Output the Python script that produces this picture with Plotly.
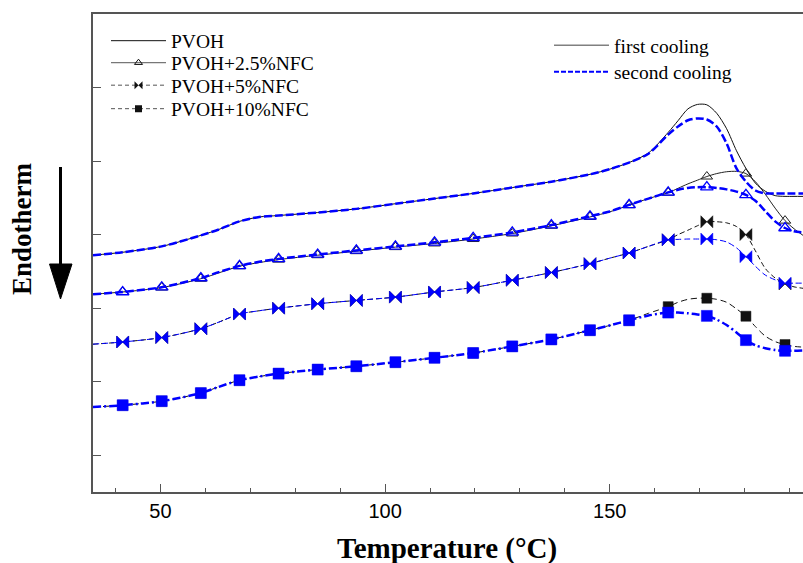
import plotly.graph_objects as go

# Temperature grid (°C) shared by all DSC cooling curves
temp = [35, 41.6, 50.3, 59.0, 63.0, 67.6, 72.0, 76.3, 85.0, 93.6, 102.3, 111.0,
        119.6, 128.3, 137.0, 145.6, 150.0, 154.3, 158.6, 163.0, 165.2, 167.4,
        169.5, 171.6, 173.8, 176.0, 178.2, 180.3, 182.4, 184.6, 186.8, 189.0,
        191.0, 193.0]

# Temperatures where symbols are placed on the curves
marker_temps = [41.6, 50.3, 59.0, 67.6, 76.3, 85.0, 93.6, 102.3, 111.0, 119.6,
                128.3, 137.0, 145.6, 154.3, 163.0, 171.6, 180.3, 189.0]

# Heat flow (arbitrary units, curves shifted vertically)
pvoh_first = [3.72, 3.76, 3.84, 3.99, 4.07, 4.18, 4.24, 4.26, 4.30, 4.35, 4.42, 4.49,
              4.56, 4.64, 4.72, 4.82, 4.89, 4.98, 5.11, 5.39, 5.55, 5.71, 5.77, 5.765,
              5.65, 5.44, 5.14, 4.90, 4.70, 4.59, 4.53, 4.52, 4.52, 4.52]
pvoh_second = [3.72, 3.76, 3.84, 3.99, 4.07, 4.18, 4.24, 4.26, 4.30, 4.35, 4.42, 4.49,
               4.56, 4.64, 4.72, 4.82, 4.89, 4.98, 5.10, 5.36, 5.47, 5.555, 5.58, 5.565,
               5.47, 5.24, 4.90, 4.72, 4.60, 4.56, 4.56, 4.56, 4.56, 4.56]

nfc25_first = [3.19, 3.22, 3.28, 3.40, 3.48, 3.57, 3.62, 3.66, 3.72, 3.775, 3.83, 3.88,
               3.94, 4.015, 4.12, 4.24, 4.31, 4.40, 4.49, 4.57, 4.63, 4.69, 4.74, 4.79,
               4.83, 4.855, 4.86, 4.83, 4.72, 4.55, 4.36, 4.19, 4.08, 3.99]
nfc25_second = [3.19, 3.22, 3.285, 3.41, 3.49, 3.575, 3.63, 3.67, 3.73, 3.785, 3.84, 3.895,
                3.955, 4.03, 4.13, 4.25, 4.315, 4.405, 4.49, 4.575, 4.61, 4.635, 4.645, 4.645,
                4.635, 4.615, 4.585, 4.54, 4.46, 4.32, 4.18, 4.09, 4.045, 4.03]

nfc5_first = [2.51, 2.54, 2.60, 2.72, 2.81, 2.92, 2.965, 3.00, 3.06, 3.105, 3.15, 3.22,
              3.28, 3.38, 3.485, 3.605, 3.68, 3.75, 3.84, 3.93, 4.00, 4.06, 4.12, 4.175,
              4.175, 4.16, 4.11, 4.00, 3.78, 3.54, 3.41, 3.33, 3.29, 3.27]
nfc5_second = [2.51, 2.54, 2.60, 2.72, 2.81, 2.92, 2.965, 3.00, 3.06, 3.105, 3.15, 3.22,
               3.28, 3.38, 3.485, 3.605, 3.68, 3.75, 3.84, 3.93, 3.935, 3.94, 3.94, 3.94,
               3.93, 3.90, 3.82, 3.70, 3.57, 3.45, 3.385, 3.34, 3.34, 3.34]

nfc10_first = [1.655, 1.68, 1.735, 1.845, 1.93, 2.02, 2.07, 2.11, 2.165, 2.21, 2.265, 2.325,
               2.39, 2.48, 2.575, 2.70, 2.765, 2.835, 2.93, 3.02, 3.08, 3.12, 3.135, 3.135,
               3.12, 3.08, 2.99, 2.89, 2.75, 2.62, 2.545, 2.505, 2.48, 2.47]
nfc10_second = [1.655, 1.68, 1.735, 1.845, 1.93, 2.02, 2.07, 2.11, 2.165, 2.21, 2.265, 2.325,
                2.39, 2.48, 2.575, 2.70, 2.765, 2.835, 2.90, 2.94, 2.94, 2.93, 2.915, 2.895,
                2.845, 2.77, 2.67, 2.565, 2.495, 2.455, 2.43, 2.42, 2.42, 2.425]

series_names = ["PVOH", "PVOH+2.5%NFC", "PVOH+5%NFC", "PVOH+10%NFC"]
cooling_names = ["first cooling", "second cooling"]

BLACK = "#111111"
BLUE = "#0000ff"
SERIF = "Liberation Serif"

mark_idx = [temp.index(t) for t in marker_temps]

fig = go.Figure()


def add_curve(values, color, width, dash, symbol=None, msize=9, mline=1.0):
    fig.add_trace(go.Scatter(
        x=temp, y=values, mode="lines", showlegend=False, hoverinfo="skip",
        line=dict(color=color, width=width, dash=dash, shape="spline", smoothing=0.8),
    ))
    if symbol:
        fig.add_trace(go.Scatter(
            x=[temp[i] for i in mark_idx], y=[values[i] for i in mark_idx],
            mode="markers", showlegend=False, hoverinfo="skip",
            marker=dict(symbol=symbol, size=msize, color=color,
                        line=dict(color=color, width=mline)),
        ))


# first cooling (black, thin)
add_curve(pvoh_first, BLACK, 1.0, "solid")
add_curve(nfc25_first, "#222222", 1.0, "solid", "triangle-up-open", 10, 1.0)
add_curve(nfc5_first, BLACK, 1.0, "5px,3px", "bowtie", 12, 0.5)
add_curve(nfc10_first, BLACK, 1.0, "6px,4px", "square", 10, 0.5)

# second cooling (blue)
add_curve(pvoh_second, BLUE, 2.5, "8px,3px")
add_curve(nfc25_second, BLUE, 2.5, "8px,3px", "triangle-up-open", 11, 1.3)
add_curve(nfc5_second, BLUE, 1.0, "6px,3px", "bowtie", 12, 0.5)
add_curve(nfc10_second, BLUE, 2.5, "8px,3px,2px,3px", "square", 11, 0.5)

# legend keys
legend_styles = [
    dict(line=dict(color=BLACK, width=1), mode="lines"),
    dict(line=dict(color="#777777", width=1.2), mode="lines+markers",
         marker=dict(symbol="triangle-up-open", size=7, color=BLACK)),
    dict(line=dict(color="#555555", width=1, dash="4px,3px"), mode="lines+markers",
         marker=dict(symbol="bowtie", size=8, color=BLACK)),
    dict(line=dict(color="#555555", width=1, dash="4px,3px"), mode="lines+markers",
         marker=dict(symbol="square", size=7, color=BLACK)),
]
legend_ids = ["legend", "legend2", "legend3", "legend4"]
for name, style, lid in zip(series_names, legend_styles, legend_ids):
    fig.add_trace(go.Scatter(x=[None], y=[None], name=name, legend=lid,
                             hoverinfo="skip", **style))

fig.add_trace(go.Scatter(x=[None], y=[None], name=cooling_names[0], legend="legend5",
                         mode="lines", line=dict(color="#808080", width=1.5)))
fig.add_trace(go.Scatter(x=[None], y=[None], name=cooling_names[1], legend="legend6",
                         mode="lines", line=dict(color=BLUE, width=2, dash="5px,2px")))

L, R, T, B = 93, 0, 14, 71
W, H = 803, 563
PW, PH = W - L - R, H - T - B


def px(xp):
    return (xp - L) / PW


def py(yp):
    return (H - B - yp) / PH


legend_common = dict(font=dict(family=SERIF, size=19.5, color="black"),
                     bgcolor="rgba(0,0,0,0)", borderwidth=0, xanchor="left",
                     yanchor="middle", itemwidth=55, tracegroupgap=0)
left_rows = [41.0, 63.0, 85.5, 109.0]
layout_legends = {}
for lid, row in zip(legend_ids, left_rows):
    layout_legends[lid] = dict(x=px(106), y=py(row), **legend_common)
layout_legends["legend5"] = dict(x=px(549), y=py(45.5), **legend_common)
layout_legends["legend6"] = dict(x=px(549), y=py(72.0), **legend_common)

axis_line = dict(showline=True, linecolor="#555555", linewidth=1.5, showgrid=False,
                 zeroline=False, ticks="inside", tickcolor="#555555", tickwidth=1)

fig.update_layout(
    width=W, height=H,
    margin=dict(l=L, r=R, t=T, b=B, pad=0),
    paper_bgcolor="white", plot_bgcolor="white",
    xaxis=dict(range=[35, 193], tickvals=[50, 100, 150], ticklen=8,
               mirror=True,
               minor=dict(dtick=10, tick0=0, ticks="inside", ticklen=4,
                          tickcolor="#555555", showgrid=False),
               tickfont=dict(family="Liberation Sans", size=20, color="black"),
               **axis_line),
    yaxis=dict(range=[0.5, 7.0], tickvals=[1, 2, 3, 4, 5, 6], ticklen=8,
               showticklabels=False, **axis_line),
    **layout_legends,
)

fig.add_annotation(text="<b>Temperature (°C)</b>", xref="paper", yref="paper",
                   x=px(447), y=py(548), xanchor="center", yanchor="middle",
                   showarrow=False, font=dict(family=SERIF, size=29, color="black"))
fig.add_annotation(text="<b>Endotherm</b>", xref="paper", yref="paper",
                   x=px(22), y=py(229), xanchor="center", yanchor="middle",
                   textangle=-90, showarrow=False,
                   font=dict(family=SERIF, size=27, color="black"))

# downward arrow next to the Endotherm label
fig.add_shape(type="line", xref="paper", yref="paper",
              x0=px(60.5), x1=px(60.5), y0=py(167), y1=py(268),
              line=dict(color="black", width=3))
fig.add_shape(type="path", xref="paper", yref="paper",
              path=f"M {px(49.5)} {py(264)} L {px(72)} {py(264)} L {px(60.5)} {py(299)} Z",
              fillcolor="black", line=dict(color="black", width=1))

fig.write_html("out.html")
